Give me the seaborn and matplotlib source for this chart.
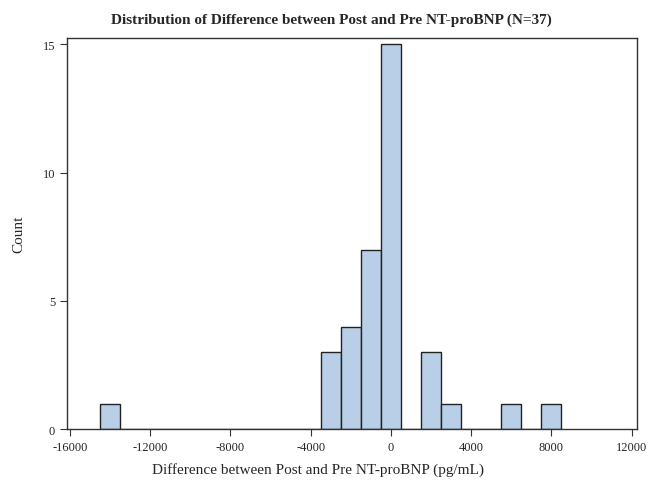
import numpy as np
import pandas as pd
import matplotlib
matplotlib.use("Agg")
import matplotlib.pyplot as plt
import seaborn as sns

# Bin centers (pg/mL) and counts
bin_centers = [-14000, -3000, -2000, -1000, 0, 2000, 3000, 6000, 8000]
counts = [1, 3, 4, 7, 15, 3, 1, 1, 1]
x_ticks = [-16000, -12000, -8000, -4000, 0, 4000, 8000, 12000]
y_ticks = [0, 5, 10, 15]

sns.set_style("ticks")
plt.rcParams['font.family'] = ['Liberation Serif', 'DejaVu Serif']

df = pd.DataFrame({"diff": bin_centers, "n": counts})

fig = plt.figure(figsize=(6.49, 4.85), dpi=100)
ax = fig.add_axes([0.103, 0.113, 0.878, 0.807])

sns.histplot(data=df, x="diff", weights="n", binwidth=1000, binrange=(-14500, 8500),
             color="#B9CFE8", edgecolor="#222222", linewidth=1.0, alpha=1.0, ax=ax)

ax.set_xlim(-16150, 12250)
ax.set_ylim(0, 15.25)
ax.set_xticks(x_ticks)
ax.set_xticklabels([str(t) for t in x_ticks])
ax.set_yticks(y_ticks)
ax.tick_params(axis='both', labelsize=9, length=5, width=0.8, direction='out', color='#333333')
for s in ax.spines.values():
    s.set_visible(True)
    s.set_linewidth(1.0)
    s.set_color('#333333')

ax.set_xlabel("Difference between Post and Pre NT-proBNP (pg/mL)", fontsize=11)
ax.xaxis.set_label_coords(0.44, -0.085)
ax.set_ylabel("Count", fontsize=11)
ax.yaxis.set_label_coords(-0.072, 0.5)
fig.suptitle("Distribution of Difference between Post and Pre NT-proBNP (N=37)",
             fontsize=11, fontweight='bold', x=0.51, y=0.972)

fig.savefig("out.png", dpi=100)
